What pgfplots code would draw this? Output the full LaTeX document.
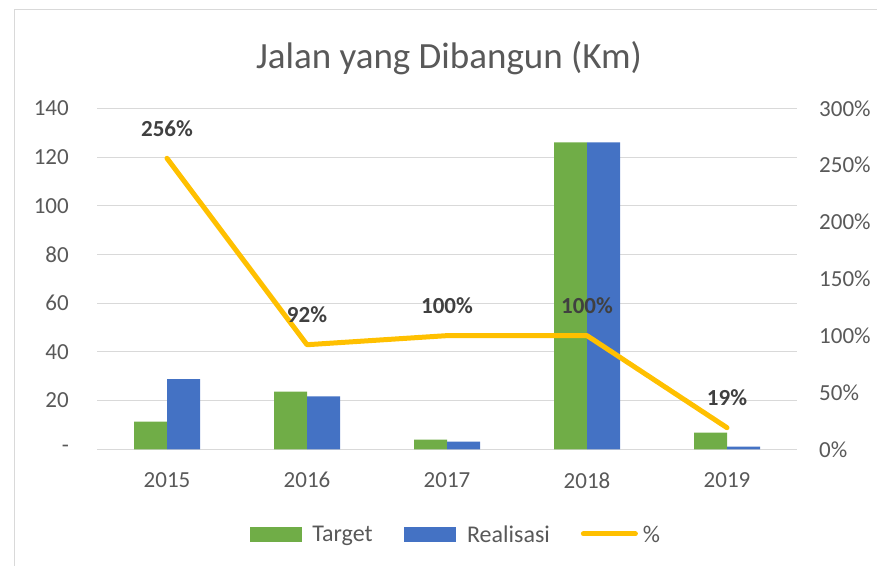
\documentclass[border=0pt]{standalone}
\usepackage{fontspec}
\setmainfont{Carlito}
\usepackage{pgfplots}
\pgfplotsset{compat=1.18}
\definecolor{cgreen}{HTML}{70AD47}
\definecolor{cblue}{HTML}{4472C4}
\definecolor{cyellow}{HTML}{FFC000}
\definecolor{gridgray}{HTML}{D9D9D9}
\definecolor{textgray}{HTML}{595959}
\definecolor{labelgray}{HTML}{404040}

\pgfplotsset{
  common/.style={
    at={(97pt,115.7pt)}, anchor=south west,
    scale only axis, width=700pt, height=341pt,
    xmin=-0.5, xmax=4.5,
    major tick length=0pt,
    axis line style={draw=none},
    tick label style={font=\fontsize{23}{23}\selectfont, text=textgray},
    /pgf/number format/assume math mode=true,
  }
}

\begin{document}
\begin{tikzpicture}[x=1pt,y=1pt]
\path[use as bounding box] (0,0) rectangle (877,565);
\draw[gridgray, line width=1pt] (14,-2) -- (14,555) -- (880,555);
\node[font=\fontsize{37}{37}\selectfont, text=textgray] at (449,507) {Jalan yang Dibangun (Km)};

\begin{axis}[common,
    ymin=0, ymax=140,
    ytick={0,20,...,140},
    yticklabels={-,20,40,60,80,100,120,140},
    xtick={0,1,2,3,4},
    xticklabels={2015,2016,2017,2018,2019},
    ymajorgrids, grid style={gridgray, line width=1pt},
    yticklabel style={anchor=east, inner sep=0pt, xshift=-28pt},
    xticklabel style={anchor=center, inner sep=0pt, yshift=-31pt},
    ybar=0pt, bar width=33pt,
  ]
  \addplot[fill=cgreen, draw=none] coordinates {(0,11.4) (1,23.7) (2,4.0) (3,126) (4,6.8)};
  \addplot[fill=cblue, draw=none] coordinates {(0,28.8) (1,21.7) (2,3.2) (3,126) (4,1.1)};
\end{axis}

\begin{axis}[common,
    ymin=0, ymax=300,
    axis y line*=right,
    axis x line=none,
    ytick={0,50,...,300},
    yticklabel={\pgfmathprintnumber{\tick}\%},
    yticklabel style={anchor=west, inner sep=0pt, xshift=22pt},
    legend columns=3,
    legend style={draw=none, fill=none, at={(0.5,-0.248)}, anchor=center, xshift=8pt,
      font=\fontsize{24}{24}\selectfont, text=textgray,
      /tikz/every even column/.append style={column sep=31pt},
      nodes={inner sep=0pt, text depth=0pt}},
    legend cell align=left,
  ]
  \addlegendimage{legend image code/.code={\fill[cgreen] (0pt,-7pt) rectangle (51pt,7pt);}}
  \addlegendentry{\hspace{11pt}Target}
  \addlegendimage{legend image code/.code={\fill[cblue] (0pt,-7pt) rectangle (51pt,7pt);}}
  \addlegendentry{\hspace{12pt}Realisasi}
  \addplot[cyellow, line width=5pt, line cap=round, line join=round,
    legend image code/.code={\draw[cyellow, line width=5pt, line cap=round] (2pt,0pt) -- (54pt,0pt);},
    nodes near coords, point meta=explicit symbolic,
    every node near coord/.style={anchor=center, yshift=30pt,
      font=\bfseries\fontsize{23}{23}\selectfont, text=labelgray}]
    coordinates {(0,256)[256\%] (1,92)[92\%] (2,100)[100\%] (3,100)[100\%] (4,19)[19\%]};
  \addlegendentry{\hspace{5pt}\%}
\end{axis}
\end{tikzpicture}
\end{document}
